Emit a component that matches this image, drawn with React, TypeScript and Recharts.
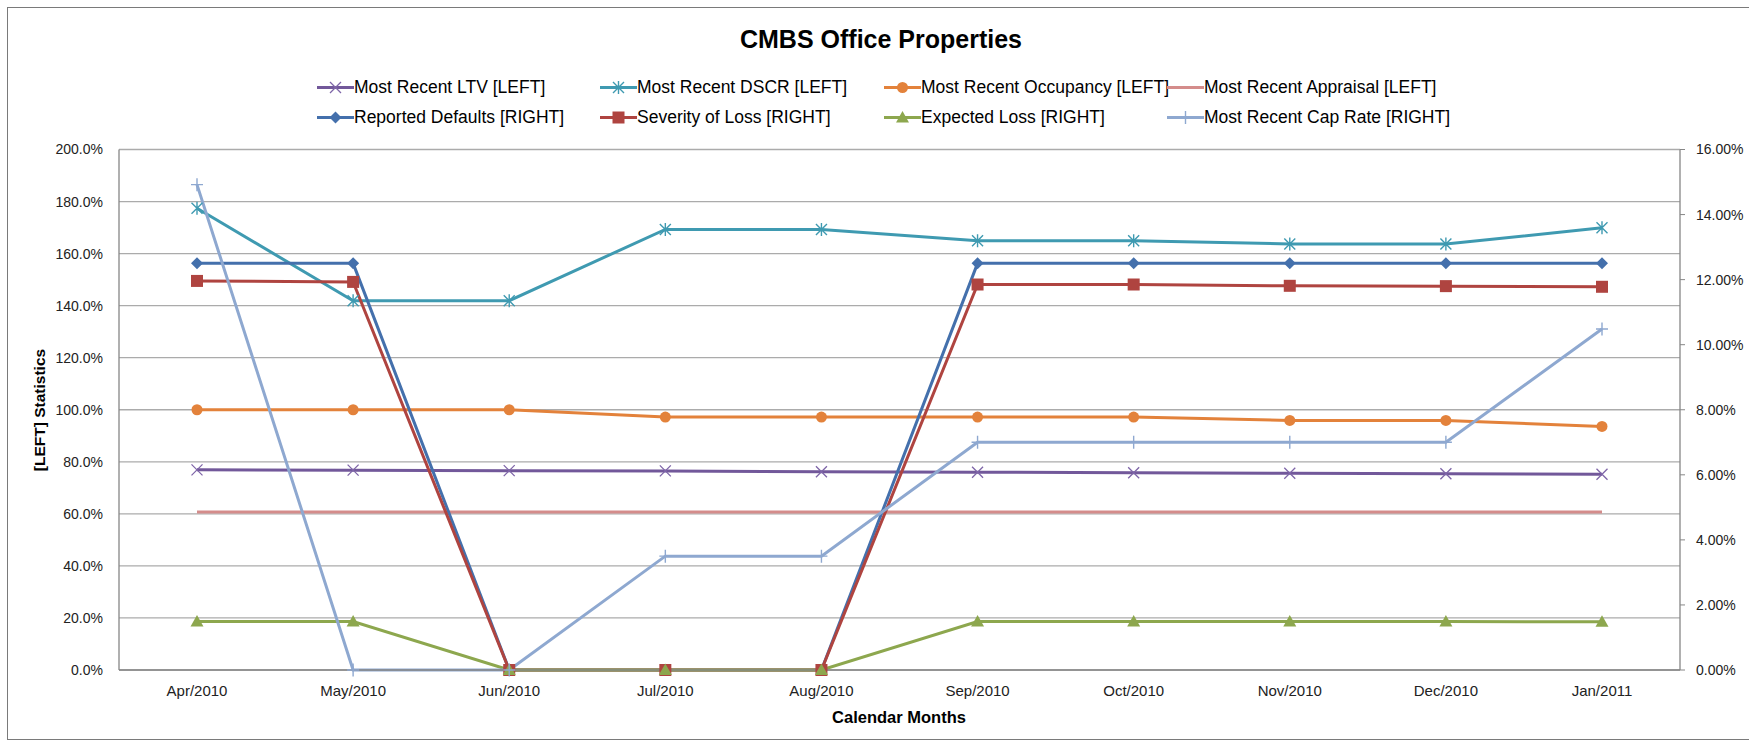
import React from "react";
import { LineChart, Line, XAxis, YAxis, CartesianGrid } from "recharts";

const months = ["Apr/2010", "May/2010", "Jun/2010", "Jul/2010", "Aug/2010", "Sep/2010", "Oct/2010", "Nov/2010", "Dec/2010", "Jan/2011"];

// left axis series (percent)
const ltv = [76.9, 76.8, 76.6, 76.5, 76.2, 76.0, 75.8, 75.6, 75.4, 75.2];
const dscr = [177.4, 141.9, 141.9, 169.3, 169.3, 164.9, 164.9, 163.7, 163.7, 169.9];
const occupancy = [100, 100, 100, 97.2, 97.2, 97.2, 97.2, 95.9, 95.9, 93.6];
const appraisal = [60.7, 60.7, 60.7, 60.7, 60.7, 60.7, 60.7, 60.7, 60.7, 60.7];

// right axis series (percent)
const defaults = [12.5, 12.5, 0, 0, 0, 12.5, 12.5, 12.5, 12.5, 12.5];
const severity = [11.96, 11.93, 0, 0, 0, 11.85, 11.85, 11.81, 11.8, 11.78];
const expectedLoss = [1.49, 1.49, 0, 0, 0, 1.49, 1.49, 1.49, 1.49, 1.48];
const capRate = [14.92, 0, 0, 3.5, 3.5, 7.0, 7.0, 7.0, 7.0, 10.48];

const leftTicks = [0, 20, 40, 60, 80, 100, 120, 140, 160, 180, 200];
const rightTicks = [0, 2, 4, 6, 8, 10, 12, 14, 16];

type Shape = "x" | "star" | "circle" | "none" | "diamond" | "square" | "triangle" | "plus";

const series: { key: string; name: string; axis: string; color: string; shape: Shape; values: number[] }[] = [
  { key: "ltv", name: "Most Recent LTV [LEFT]", axis: "left", color: "#72589A", shape: "x", values: ltv },
  { key: "dscr", name: "Most Recent DSCR [LEFT]", axis: "left", color: "#3F9AB1", shape: "star", values: dscr },
  { key: "occ", name: "Most Recent Occupancy [LEFT]", axis: "left", color: "#E3823B", shape: "circle", values: occupancy },
  { key: "appr", name: "Most Recent Appraisal [LEFT]", axis: "left", color: "#D48C8B", shape: "none", values: appraisal },
  { key: "def", name: "Reported Defaults [RIGHT]", axis: "right", color: "#4470AC", shape: "diamond", values: defaults },
  { key: "sev", name: "Severity of Loss [RIGHT]", axis: "right", color: "#AF4440", shape: "square", values: severity },
  { key: "el", name: "Expected Loss [RIGHT]", axis: "right", color: "#8DA74E", shape: "triangle", values: expectedLoss },
  { key: "cap", name: "Most Recent Cap Rate [RIGHT]", axis: "right", color: "#8EA8D0", shape: "plus", values: capRate },
];

const data = months.map((m, i) => {
  const row: any = { month: m };
  series.forEach((s) => (row[s.key] = s.values[i]));
  return row;
});

const FONT = "'Liberation Sans', Arial, sans-serif";

function marker(shape: Shape, color: string, cx: number, cy: number, key?: any) {
  switch (shape) {
    case "x":
      return <path key={key} d={`M${cx - 5.5},${cy - 5.5}L${cx + 5.5},${cy + 5.5}M${cx - 5.5},${cy + 5.5}L${cx + 5.5},${cy - 5.5}`} stroke="#7E65A8" strokeWidth={1.3} fill="none" />;
    case "star":
      return <path key={key} d={`M${cx - 5.5},${cy - 5.5}L${cx + 5.5},${cy + 5.5}M${cx - 5.5},${cy + 5.5}L${cx + 5.5},${cy - 5.5}M${cx},${cy - 6.5}L${cx},${cy + 6.5}`} stroke={color} strokeWidth={1.4} fill="none" />;
    case "circle":
      return <circle key={key} cx={cx} cy={cy} r={5.5} fill={color} />;
    case "diamond":
      return <path key={key} d={`M${cx},${cy - 6}L${cx + 6},${cy}L${cx},${cy + 6}L${cx - 6},${cy}Z`} fill={color} />;
    case "square":
      return <rect key={key} x={cx - 6} y={cy - 6} width={12} height={12} fill={color} />;
    case "triangle":
      return <path key={key} d={`M${cx},${cy - 6.5}L${cx + 6.5},${cy + 5}L${cx - 6.5},${cy + 5}Z`} fill={color} />;
    case "plus":
      return <path key={key} d={`M${cx - 6},${cy}L${cx + 6},${cy}M${cx},${cy - 6.5}L${cx},${cy + 6.5}`} stroke={color} strokeWidth={1.4} fill="none" />;
    default:
      return <g key={key} />;
  }
}

const legendCols = [310, 593, 877, 1160];
const legendRows = [80, 110];

export default function App() {
  return (
    <div style={{ position: "absolute", left: 7, top: 7, width: 1742, height: 738, overflow: "hidden", fontFamily: FONT }}>
      <div style={{ position: "absolute", left: 0, top: 0, width: 1760, height: 733, boxSizing: "border-box", border: "1px solid #7a7a7a" }} />
      <div style={{ position: "absolute", left: 1, top: 1 }}>
        <LineChart width={1741} height={737} data={data} margin={{ top: 141.5, right: 0, bottom: 15, left: 41 }}>
          <CartesianGrid yAxisId="left" vertical={false} stroke="#ababab" strokeWidth={1.3} ticks={leftTicks} />
          <XAxis
            dataKey="month"
            height={60}
            padding={{ left: 78, right: 78 }}
            axisLine={{ stroke: "#868686", strokeWidth: 1.3 }}
            tickLine={false}
            tickSize={0}
            tickMargin={15}
            interval={0}
            tick={{ fontSize: 15, fill: "#222", fontFamily: FONT }}
          />
          <YAxis
            yAxisId="left"
            width={70}
            domain={[0, 200]}
            ticks={leftTicks}
            interval={0}
            tickFormatter={(v: number) => v.toFixed(1) + "%"}
            axisLine={{ stroke: "#868686", strokeWidth: 1.3 }}
            tickLine={false}
            tickSize={0}
            tickMargin={16}
            tick={{ fontSize: 14, fill: "#222", fontFamily: FONT }}
          />
          <YAxis
            yAxisId="right"
            orientation="right"
            width={69}
            domain={[0, 16]}
            ticks={rightTicks}
            interval={0}
            tickFormatter={(v: number) => v.toFixed(2) + "%"}
            axisLine={{ stroke: "#868686", strokeWidth: 1.3 }}
            tickLine={{ stroke: "#868686" }}
            tickSize={5}
            tickMargin={11}
            tick={{ fontSize: 14, fill: "#222", fontFamily: FONT }}
          />
          {series.map((s) => (
            <Line
              key={s.key}
              yAxisId={s.axis}
              dataKey={s.key}
              name={s.name}
              stroke={s.color}
              strokeWidth={3}
              type="linear"
              isAnimationActive={false}
              activeDot={false}
              dot={s.shape === "none" ? false : (p: any) => marker(s.shape, s.color, p.cx, p.cy, p.index)}
            />
          ))}
        </LineChart>
      </div>

      {/* title */}
      <div style={{ position: "absolute", left: 874, top: 32, transform: "translate(-50%, -50%)", fontSize: 25, fontWeight: "bold", whiteSpace: "nowrap", color: "#000" }}>
        CMBS Office Properties
      </div>

      {/* legend */}
      {series.map((s, i) => (
        <div
          key={s.key}
          style={{ position: "absolute", left: legendCols[i % 4], top: legendRows[Math.floor(i / 4)], transform: "translateY(-50%)", display: "flex", alignItems: "center", whiteSpace: "nowrap", fontSize: 17.5, color: "#000" }}
        >
          <svg width={37} height={16} style={{ display: "block" }}>
            <line x1={0} y1={8} x2={37} y2={8} stroke={s.color} strokeWidth={3} />
            {marker(s.shape, s.color, 18.5, 8)}
          </svg>
          <span>{s.name}</span>
        </div>
      ))}

      {/* axis titles */}
      <div style={{ position: "absolute", left: 33, top: 403, transform: "translate(-50%, -50%) rotate(-90deg)", fontSize: 15.5, fontWeight: "bold", whiteSpace: "nowrap", color: "#000" }}>
        [LEFT] Statistics
      </div>
      <div style={{ position: "absolute", left: 892, top: 710, transform: "translate(-50%, -50%)", fontSize: 16.5, fontWeight: "bold", whiteSpace: "nowrap", color: "#000" }}>
        Calendar Months
      </div>
    </div>
  );
}
